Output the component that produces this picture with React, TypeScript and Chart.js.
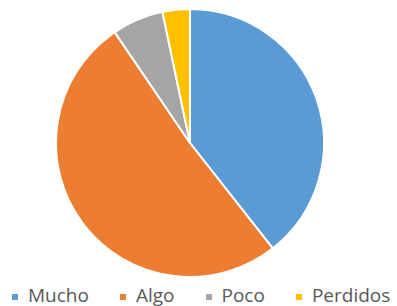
import React, { useEffect, useRef } from "react";
import { Chart, registerables } from "chart.js";

Chart.register(...registerables);

const categories = ["Mucho", "Algo", "Poco", "Perdidos"];
const values = [39.4, 51.1, 6.2, 3.3];
const colors = ["#5B9BD5", "#ED7D31", "#A5A5A5", "#FFC000"];

export default function App() {
  const ref = useRef<HTMLCanvasElement>(null);
  useEffect(() => {
    if (!ref.current) return;
    const chart = new Chart(ref.current, {
      type: "pie",
      data: {
        labels: categories,
        datasets: [
          {
            data: values,
            backgroundColor: colors,
            borderColor: "#ffffff",
            borderWidth: 2,
          },
        ],
      },
      options: {
        responsive: false,
        animation: false,
        layout: { padding: { top: 8, left: 0, right: 17, bottom: 2 } },
        plugins: {
          tooltip: { enabled: false },
          legend: { display: false },
        },
      },
    });
    return () => chart.destroy();
  }, []);
  return (
    <div style={{ position: "fixed", left: 0, top: 0, width: 397, height: 306, background: "#fff", overflow: "hidden" }}>
      <canvas ref={ref} width={397} height={280} style={{ display: "block" }} />
      <div
        style={{
          position: "absolute",
          left: 12,
          top: 285,
          display: "flex",
          alignItems: "center",
          gap: 31,
          fontFamily: "'Open Sans', sans-serif",
          fontSize: 19,
          lineHeight: "20px",
          color: "#595959",
          whiteSpace: "nowrap",
        }}
      >
        {categories.map((c, i) => (
          <div key={c} style={{ display: "flex", alignItems: "center" }}>
            <span style={{ display: "inline-block", width: 6, height: 6, background: colors[i], marginRight: 10, marginTop: 3 }} />
            <span>{c}</span>
          </div>
        ))}
      </div>
    </div>
  );
}
